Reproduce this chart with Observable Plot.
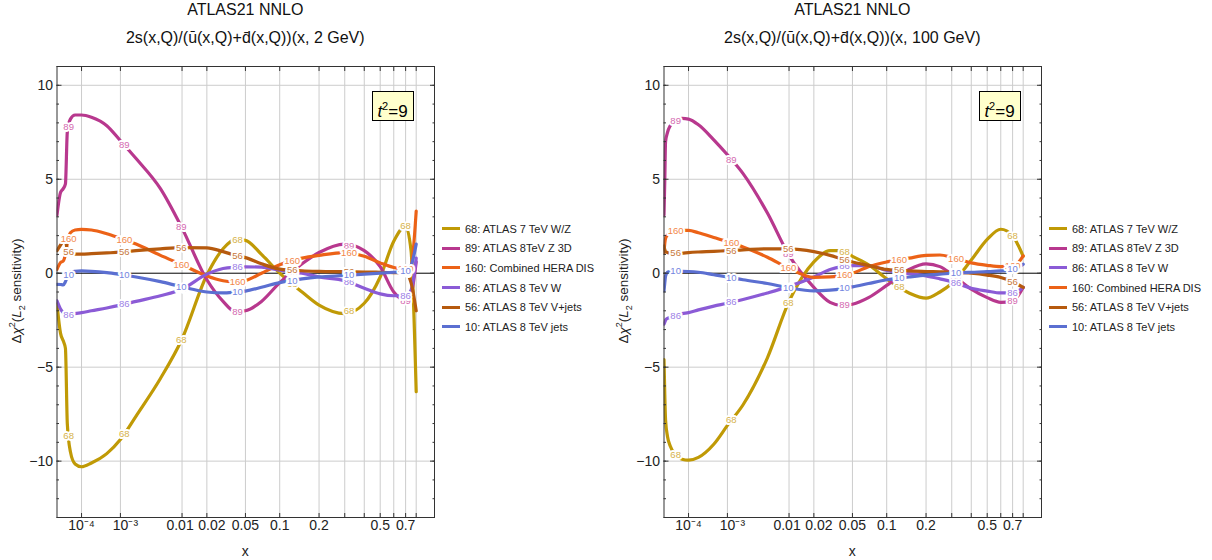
<!DOCTYPE html>
<html><head><meta charset="utf-8">
<script src="https://cdn.jsdelivr.net/npm/d3@7"></script>
<script src="https://cdn.jsdelivr.net/npm/@observablehq/plot@0.6"></script>
<style>
body{margin:0;background:#fff;font-family:"Liberation Sans",Arial,sans-serif;}
#root{position:relative;width:1212px;height:560px;overflow:hidden;background:#fff;}
.abs{position:absolute;}
.title{position:absolute;width:480px;text-align:center;font-size:16px;line-height:18px;color:#111;white-space:nowrap;}
.ylab{position:absolute;font-size:13.5px;color:#222;white-space:nowrap;transform:translate(-50%,-50%) rotate(-90deg);}
.xlab{position:absolute;font-size:14px;color:#222;transform:translate(-50%,-50%);}
.tbox{position:absolute;width:40px;height:28px;background:#ffffcc;border:1px solid #000;font-size:17px;line-height:28px;text-align:center;color:#000;}
.leg{position:absolute;font-size:11px;color:#222;}
.leg .it{display:flex;align-items:center;height:19.6px;white-space:nowrap;}
.leg .sw{width:18px;height:3px;margin-right:5px;}
</style></head><body><div id="root"></div>
<script>
// ---------- data ----------
const names = {68:"68: ATLAS 7 TeV W/Z", 89:"89: ATLAS 8TeV Z 3D", 160:"160: Combined HERA DIS", 86:"86: ATLAS 8 TeV W", 56:"56: ATLAS 8 TeV V+jets", 10:"10: ATLAS 8 TeV jets"};
const lineColors = {68:"#c09a06", 89:"#b8388e", 160:"#ec6217", 86:"#8b5bd6", 56:"#b65a0e", 10:"#5b6fd1"};
const labelColors = {68:"#d6b24a", 89:"#d46ab0", 160:"#f2874a", 86:"#9c80e6", 56:"#c8783a", 10:"#7384e0"};
const orderLeft = [68, 89, 160, 86, 56, 10];
const orderRight = [68, 89, 86, 160, 56, 10];

const titleTop = "ATLAS21 NNLO";
const subLeft = "2s(x,Q)/(u\u0304(x,Q)+d\u0304(x,Q))(x, 2 GeV)";
const subRight = "2s(x,Q)/(u\u0304(x,Q)+d\u0304(x,Q))(x, 100 GeV)";

// left panel (Q = 2 GeV)
const xL = [1e-5,1.5e-5,2e-5,2.5e-5,3e-5,4e-5,6e-5,1e-4,2e-4,5e-4,1e-3,2e-3,5e-3,0.01,0.02,0.03,0.04,0.05,0.07,0.1,0.15,0.2,0.3,0.4,0.5,0.6,0.7,0.75,0.8];
const L68 = [-1.65,-3.2,-3.6,-4.0,-8.0,-9.5,-10.15,-10.3,-10.1,-9.6,-8.85,-7.6,-5.6,-3.5,-0.1,1.3,1.8,1.75,1.0,0.0,-1.0,-1.7,-2.15,-1.6,-0.2,1.7,2.5,1.2,-6.3];
const L89 = [3.1,4.3,4.5,4.75,7.5,8.2,8.42,8.42,8.3,7.85,7.05,6.1,4.5,2.4,-0.35,-1.5,-2.05,-2.0,-1.5,-0.5,0.5,1.1,1.55,1.2,0.35,-1.0,-1.45,-1.1,0.6];
const L160 = [0.2,0.57,0.65,1.0,1.6,2.15,2.3,2.33,2.3,2.1,1.85,1.55,0.95,0.45,-0.15,-0.4,-0.47,-0.4,0.0,0.45,0.8,0.95,1.1,0.9,0.55,0.3,0.2,0.4,3.3];
const L86 = [-1.47,-1.9,-2.1,-2.2,-2.25,-2.2,-2.15,-2.1,-2.0,-1.85,-1.7,-1.5,-1.2,-0.85,-0.05,0.25,0.32,0.34,0.32,0.16,0.0,-0.2,-0.4,-0.8,-1.1,-1.2,-1.2,-0.9,0.8];
const L56 = [1.2,1.5,1.7,1.75,1.2,1.05,1.02,1.02,1.04,1.08,1.12,1.2,1.3,1.36,1.35,1.15,0.95,0.83,0.5,0.22,0.13,0.1,0.08,0.06,0.05,0.03,0.0,-0.5,-2.0];
const L10 = [-0.59,-0.6,-0.62,-0.45,-0.2,0.05,0.1,0.12,0.1,0.03,-0.07,-0.2,-0.45,-0.73,-1.0,-1.05,-1.0,-0.95,-0.75,-0.5,-0.3,-0.2,-0.12,-0.05,0.0,0.05,0.1,0.4,1.55];

// right panel (Q = 100 GeV)
const xR = [1e-5,1.1e-5,1.2e-5,1.5e-5,2e-5,3e-5,6e-5,1e-4,2e-4,5e-4,1e-3,2e-3,5e-3,0.01,0.02,0.03,0.04,0.05,0.07,0.1,0.15,0.2,0.25,0.3,0.4,0.5,0.6,0.7,0.75,0.8];
const R68 = [-4.6,-6.5,-7.8,-8.7,-9.2,-9.6,-9.9,-9.95,-9.8,-9.1,-8.1,-7.0,-4.5,-1.5,0.6,1.2,1.2,0.9,0.45,-0.3,-1.05,-1.33,-1.0,-0.55,0.7,1.8,2.34,2.0,1.5,0.9];
const R89 = [3.1,5.0,7.0,7.5,7.85,8.1,8.24,8.2,7.9,7.1,6.3,5.3,3.2,0.95,-0.75,-1.55,-1.72,-1.65,-1.3,-0.65,0.2,0.5,0.35,-0.05,-0.85,-1.3,-1.55,-1.5,-1.2,-0.76];
const R160 = [1.1,1.6,1.85,2.05,2.15,2.22,2.28,2.28,2.15,1.9,1.68,1.4,0.85,0.25,-0.22,-0.2,-0.1,0.0,0.35,0.6,0.8,0.95,0.97,0.85,0.55,0.42,0.35,0.4,0.55,0.92];
const R86 = [-2.71,-2.6,-2.5,-2.4,-2.36,-2.27,-2.15,-2.1,-1.95,-1.75,-1.6,-1.4,-1.05,-0.7,-0.2,0.2,0.35,0.4,0.4,0.15,-0.02,-0.14,-0.3,-0.45,-0.8,-0.95,-1.05,-1.05,-0.95,-0.76];
const R56 = [1.45,1.25,1.15,1.1,1.05,1.05,1.07,1.1,1.13,1.16,1.2,1.24,1.3,1.3,1.15,0.95,0.75,0.6,0.42,0.2,0.12,0.09,0.07,0.05,0.0,-0.1,-0.23,-0.45,-0.6,-0.76];
const R10 = [-0.94,-0.5,-0.15,0.05,0.09,0.1,0.1,0.09,0.05,-0.08,-0.2,-0.35,-0.55,-0.78,-0.94,-0.9,-0.82,-0.73,-0.55,-0.35,-0.2,-0.1,-0.05,0.0,0.05,0.08,0.12,0.2,0.3,0.48];

// where the inline curve labels sit
const labelXs = [3.4e-5, 1.2e-3, 0.0098, 0.042, 0.126, 0.32, 0.7];

// axes
const xGridValues = [1e-4,1e-3,0.01,0.02,0.05,0.1,0.2,0.3,0.4,0.5,0.6,0.7,0.8];
const xTickValues = [1e-4,1e-3,0.01,0.02,0.05,0.1,0.2,0.5,0.7];
const xTickLabels = ["10\u207B\u2074","10\u207B\u00B3","0.01","0.02","0.05","0.1","0.2","0.5","0.7"];
const xTickNudge = [0, 5, -2, 5, 0, 0, 0, 0, 0];
const yMajor = [-10,-5,0,5,10];
const yGrid = [-10,-5,5,10];
const yMinor = d3.range(-13, 12, 1);
const xDomain = [1e-5, 1];
const yDomain = [-13, 11];

// ---------- helpers ----------
function interp(grid, ys, x){
  const t = Math.pow(x, 0.2);
  for (let i = 0; i < grid.length - 1; i++){
    const a = Math.pow(grid[i], 0.2), b = Math.pow(grid[i+1], 0.2);
    if (t >= a && t <= b) return ys[i] + (ys[i+1] - ys[i]) * (t - a) / (b - a);
  }
  return ys[ys.length - 1];
}

function makePanel(grid, series, order){
  const marks = [
    Plot.gridX(xGridValues, {stroke:"#cccccc", strokeOpacity:1, strokeWidth:1}),
    Plot.gridY(yGrid, {stroke:"#cccccc", strokeOpacity:1, strokeWidth:1}),
    Plot.ruleY([0], {stroke:"#000", strokeWidth:1})
  ];
  for (const k of order){
    const pts = grid.map((x, i) => ({x, y: series[k][i]}));
    marks.push(Plot.line(pts, {x:"x", y:"y", stroke: lineColors[k], strokeWidth:3.2, curve:"monotone-x", clip:true}));
  }
  for (const k of order){
    const labs = labelXs.map(x => ({x, y: interp(grid, series[k], x), t: String(k)}));
    marks.push(Plot.text(labs, {x:"x", y:"y", text:"t", fill: labelColors[k], stroke:"white", strokeWidth:4, paintOrder:"stroke", fontSize:9.5}));
  }
  marks.push(Plot.frame({stroke:"#333", strokeWidth:1}));
  xTickValues.forEach((v, i) => {
    marks.push(Plot.axisX([v], {anchor:"bottom", tickSize:0, tickPadding:3, dx: xTickNudge[i], tickFormat:() => xTickLabels[i], label:null, fontSize:14}));
  });
  marks.push(
    Plot.axisY(yMajor, {anchor:"left", tickSize:0, tickPadding:4, label:null, fontSize:14}),
    // inward ticks
    Plot.axisX(xGridValues, {anchor:"bottom", tickSize:4, dy:-4, tickFormat:()=>"", label:null, stroke:"#333"}),
    Plot.axisX(xGridValues, {anchor:"top", tickSize:4, dy:4, tickFormat:()=>"", label:null, stroke:"#333"}),
    Plot.axisY(yMajor, {anchor:"left", tickSize:5, dx:5, tickFormat:()=>"", label:null, stroke:"#333"}),
    Plot.axisY(yMinor, {anchor:"left", tickSize:2.5, dx:2.5, tickFormat:()=>"", label:null, stroke:"#333"}),
    Plot.axisY(yMajor, {anchor:"right", tickSize:5, dx:-5, tickFormat:()=>"", label:null, stroke:"#333"}),
    Plot.axisY(yMinor, {anchor:"right", tickSize:2.5, dx:-2.5, tickFormat:()=>"", label:null, stroke:"#333"})
  );
  return Plot.plot({
    width: 440, height: 504,
    marginLeft: 56.5, marginRight: 6, marginTop: 10, marginBottom: 43,
    x: {type:"pow", exponent:0.2, domain: xDomain},
    y: {domain: yDomain},
    style: {fontFamily:"'Liberation Sans', Arial, sans-serif", fontSize:"14px", color:"#222", background:"transparent", overflow:"visible"},
    marks
  });
}

// ---------- layout ----------
const root = document.getElementById("root");
function add(html, cls, style){
  const d = document.createElement("div");
  d.className = cls; d.innerHTML = html; Object.assign(d.style, style); root.appendChild(d); return d;
}

function buildPanel(offsetX, grid, series, order, sub, legendSwatchX){
  const centerX = offsetX + (56.5 + 434) / 2;
  add(titleTop, "title", {left:(centerX-240)+"px", top:"1px"});
  add(sub, "title", {left:(centerX-240)+"px", top:"29px"});
  const svgWrap = add("", "abs", {left: offsetX+"px", top:"56px"});
  svgWrap.appendChild(makePanel(grid, series, order));
  add("\u0394<i>\u03C7</i><sup style='font-size:9px'>2</sup>(<i>L</i><sub style='font-size:9px'>2</sub> sensitivity)", "ylab", {left:(offsetX+16.5)+"px", top:"291px"});
  add("x", "xlab", {left:centerX+"px", top:"551px"});
  add("<i>t</i><sup style='font-size:11px'>2</sup>=9", "tbox", {left:(offsetX+371.5)+"px", top:"91px"});
  const leg = add("", "leg", {left: legendSwatchX+"px", top:"219px"});
  for (const k of order){
    const it = document.createElement("div"); it.className = "it";
    it.innerHTML = `<span class="sw" style="background:${lineColors[k]}"></span><span>${names[k]}</span>`;
    leg.appendChild(it);
  }
}

buildPanel(0, xL, {68:L68, 89:L89, 160:L160, 86:L86, 56:L56, 10:L10}, orderLeft, subLeft, 442);
buildPanel(607, xR, {68:R68, 89:R89, 160:R160, 86:R86, 56:R56, 10:R10}, orderRight, subRight, 1049);
</script></body></html>
